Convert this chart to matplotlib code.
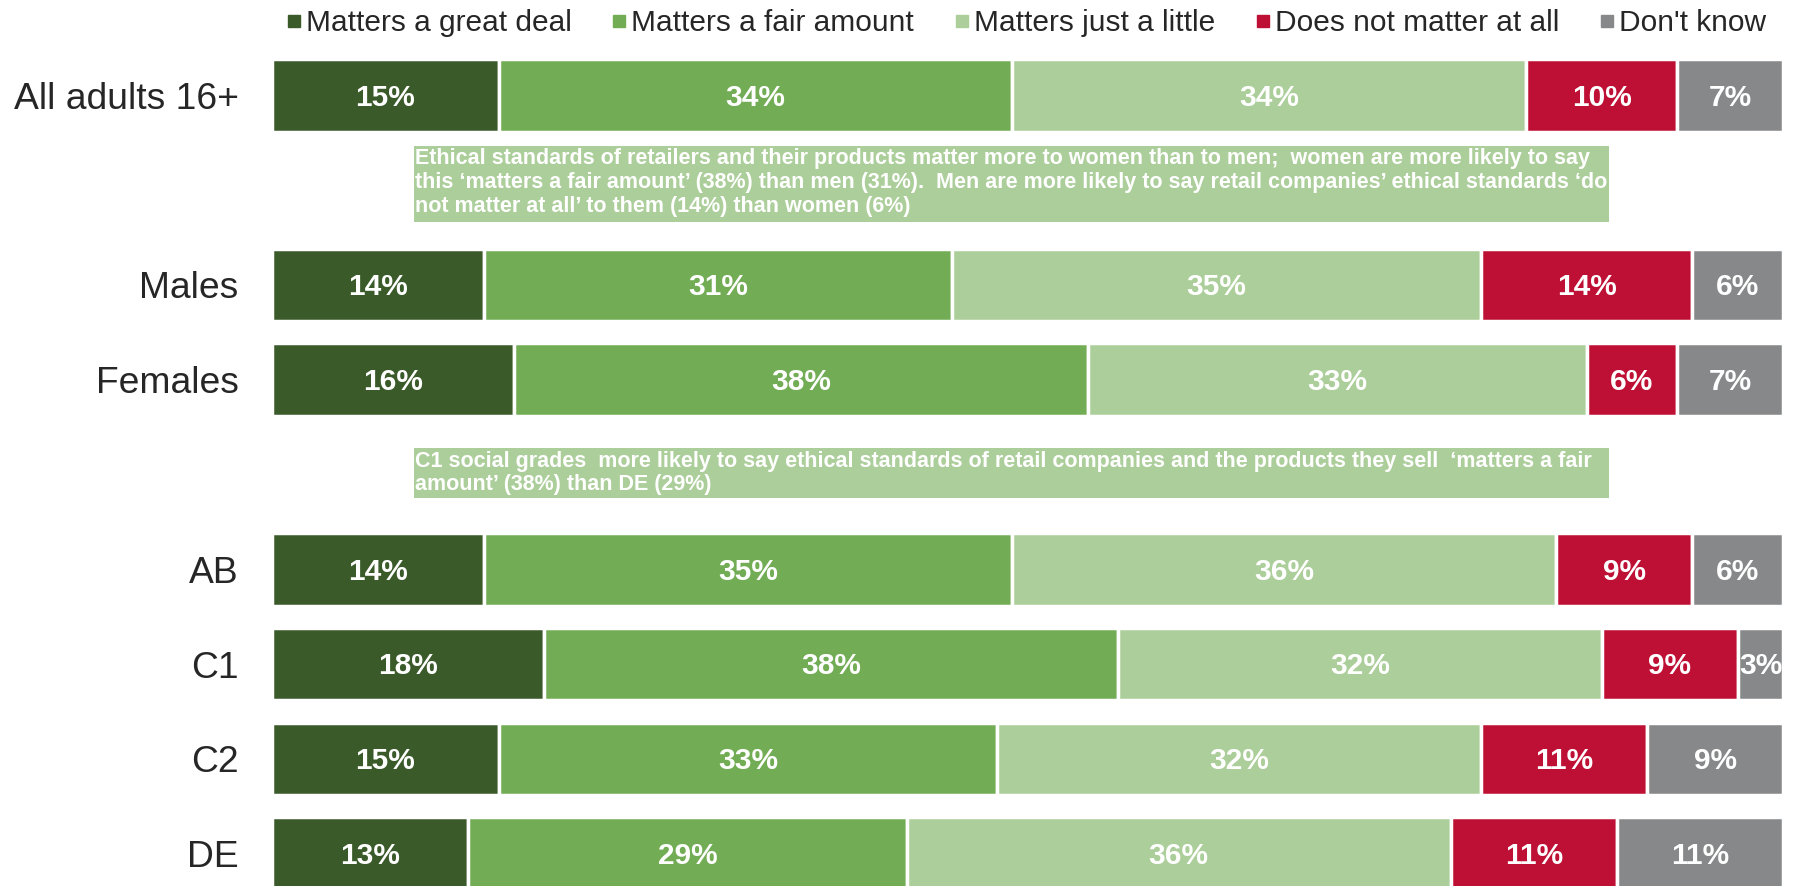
import numpy as np
import matplotlib
matplotlib.use("Agg")
import matplotlib.pyplot as plt
from matplotlib.lines import Line2D
from matplotlib.patches import Rectangle

plt.rcParams["font.family"] = ["Liberation Sans", "DejaVu Sans"]

# data
groups = ["All adults 16+", "Males", "Females", "AB", "C1", "C2", "DE"]
great_deal = [15, 14, 16, 14, 18, 15, 13]
fair_amount = [34, 31, 38, 35, 38, 33, 29]
just_little = [34, 35, 33, 36, 32, 32, 36]
not_at_all = [10, 14, 6, 9, 9, 11, 11]
dont_know = [7, 6, 7, 6, 3, 9, 11]

series_names = ["Matters a great deal", "Matters a fair amount", "Matters just a little",
                "Does not matter at all", "Don't know"]
colors = ["#3A5A29", "#72AD56", "#ACCE9A", "#BE1034", "#878889"]

note_gender = ("Ethical standards of retailers and their products matter more to women than to men;  women are more likely to say\n"
               "this \u2018matters a fair amount\u2019 (38%) than men (31%).  Men are more likely to say retail companies\u2019 ethical standards \u2018do\n"
               "not matter at all\u2019 to them (14%) than women (6%)")
note_grade = ("C1 social grades  more likely to say ethical standards of retail companies and the products they sell  \u2018matters a fair\n"
              "amount\u2019 (38%) than DE (29%)")

# row slots: 0 all, 1 note, 2 males, 3 females, 4 note, 5..8 grades
row_pos = [0, 2, 3, 5, 6, 7, 8]

fig = plt.figure(figsize=(18, 8.86), dpi=100)
ax = fig.add_axes([0.1511, 0.0, 0.8395, 1.0])

series = [great_deal, fair_amount, just_little, not_at_all, dont_know]
left = np.zeros(len(groups))
for vals, col in zip(series, colors):
    vals = np.array(vals, dtype=float)
    ax.barh(row_pos, vals, left=left, height=0.765, color=col,
            edgecolor="white", linewidth=2.5)
    for y, l, v in zip(row_pos, left, vals):
        ax.text(l + v / 2, y + 0.025, f"{int(v)}%", ha="center", va="center",
                color="white", fontsize=21.5, fontweight="bold", clip_on=True)
    left += vals

# annotation boxes
ax.add_patch(Rectangle((9.4, 0.535), 79.1, 0.80, facecolor="#ACCE9A", edgecolor="none"))
ax.text(9.45, 0.56, note_gender, ha="left", va="top", color="white",
        fontsize=15.5, fontweight="bold", linespacing=1.17)
ax.add_patch(Rectangle((9.4, 3.725), 79.1, 0.52, facecolor="#ACCE9A", edgecolor="none"))
ax.text(9.45, 3.75, note_grade, ha="left", va="top", color="white",
        fontsize=15.5, fontweight="bold", linespacing=1.17)

ax.set_xlim(0, 100)
ax.set_ylim(8.341, -1.005)
ax.set_yticks(row_pos)
ax.set_yticklabels(groups, fontsize=26.8, color="#262626")
ax.tick_params(axis="y", length=0, pad=24)
ax.set_xticks([])
for s in ax.spines.values():
    s.set_visible(False)

handles = [Line2D([], [], marker="s", linestyle="none", markersize=8, color=c) for c in colors]
fig.legend(handles, series_names, loc="center", bbox_to_anchor=(0.5696, 0.974), ncol=5,
           frameon=False, fontsize=21.5, handletextpad=0.1, columnspacing=1.3,
           handlelength=0.6, labelcolor="#262626")

fig.savefig("out.png", dpi=100)
